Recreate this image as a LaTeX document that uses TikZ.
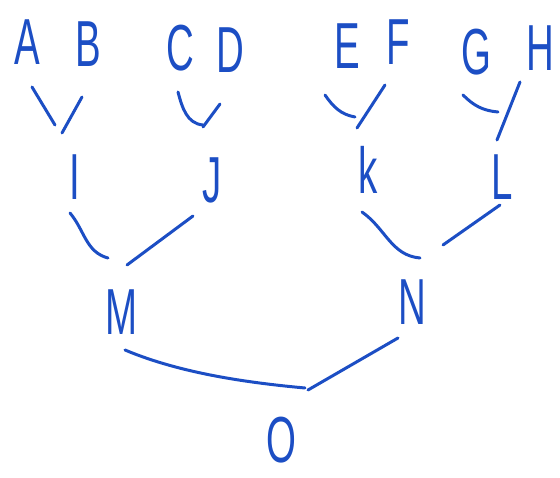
\documentclass[tikz,border=0pt]{standalone}
\usepackage{fontspec}
\usepackage{graphicx}
\setmainfont{Liberation Sans}
\definecolor{handblue}{RGB}{28,78,196}
\tikzset{
  letter/.style={text=handblue, inner sep=0pt,
    font=\fontsize{62}{62}\selectfont},
  edge/.style={draw=handblue, line width=3pt, line cap=round, line join=round}
}
\newcommand{\hl}[1]{\scalebox{0.62}[1.05]{#1}}
\begin{document}
\begin{tikzpicture}[x=1pt,y=-1pt]
\path[use as bounding box] (0,0) rectangle (560,478);
% leaves
\node[letter] (a) at (27,42) {\hl{A}};
\node[letter] (b) at (88,44) {\hl{B}};
\node[letter] (c) at (180,48) {\hl{C}};
\node[letter] (d) at (230,50) {\hl{D}};
\node[letter] (e) at (347,46) {\hl{E}};
\node[letter] (f) at (398,42) {\hl{F}};
\node[letter] (g) at (476,52) {\hl{G}};
\node[letter] (h) at (540,48) {\hl{H}};
% second level
\node[letter] (i) at (75,177) {\hl{I}};
\node[letter] (j) at (212,180) {\hl{J}};
\node[letter] (k) at (368,170) {\hl{k}};
\node[letter] (l) at (502,177) {\hl{L}};
% third level
\node[letter] (m) at (122,312) {\hl{M}};
\node[letter] (n) at (412,302) {\hl{N}};
% root
\node[letter] (o) at (281,440) {\hl{O}};
% connectors
\draw[edge] ([shift={(5,45)}]a.center) -- ([shift={(-20,-52)}]i.center);
\draw[edge] ([shift={(-6,53)}]b.center) -- ([shift={(-13,-44)}]i.center);
\draw[edge] ([shift={(-2,44)}]c.center) to[out=-75,in=175] ([shift={(-9,-55)}]j.center);
\draw[edge] ([shift={(-10,54)}]d.center) -- ([shift={(-9,-53)}]j.center);
\draw[edge] ([shift={(-22,49)}]e.center) to[out=-55,in=170] ([shift={(-13,-53)}]k.center);
\draw[edge] ([shift={(-13,43)}]f.center) -- ([shift={(-11,-42)}]k.center);
\draw[edge] ([shift={(-13,43)}]g.center) to[out=-45,in=175] ([shift={(-4,-65)}]l.center);
\draw[edge] ([shift={(-20,34)}]h.center) -- ([shift={(-5,-37)}]l.center);
\draw[edge] ([shift={(-5,36)}]i.center) to[out=-50,in=165] ([shift={(-14,-54)}]m.center);
\draw[edge] ([shift={(-19,36)}]j.center) -- ([shift={(5,-47)}]m.center);
\draw[edge] ([shift={(-6,42)}]k.center) to[out=-35,in=175] ([shift={(8,-44)}]n.center);
\draw[edge] ([shift={(-2,28)}]l.center) -- ([shift={(31,-57)}]n.center);
\draw[edge] ([shift={(3,38)}]m.center) .. controls ([shift={(60,62)}]m.center) and ([shift={(-30,-57)}]o.center) .. ([shift={(24,-52)}]o.center);
\draw[edge] ([shift={(-14,36)}]n.center) -- ([shift={(27,-50)}]o.center);
\end{tikzpicture}
\end{document}
